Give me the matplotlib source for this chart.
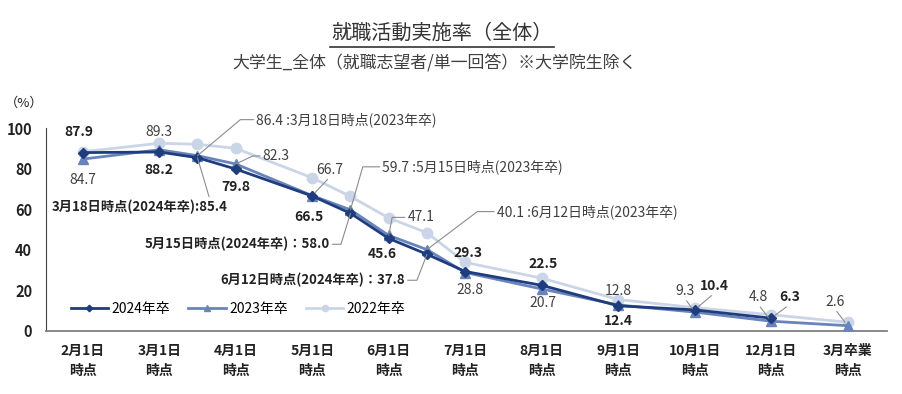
import matplotlib
matplotlib.use("Agg")
import matplotlib.pyplot as plt
from matplotlib.lines import Line2D

plt.rcParams['font.family'] = ['Noto Sans CJK JP', 'DejaVu Sans']

# x categories (half steps are the intermediate dates)
cats = ["2月1日\n時点", "3月1日\n時点", "4月1日\n時点", "5月1日\n時点", "6月1日\n時点",
        "7月1日\n時点", "8月1日\n時点", "9月1日\n時点", "10月1日\n時点", "12月1日\n時点",
        "3月卒業\n時点"]
xpos = [0, 1, 1.5, 2, 3, 3.5, 4, 4.5, 5, 6, 7, 8, 9, 10]

y2024 = [87.9, 88.2, 85.4, 79.8, 66.5, 58.0, 45.6, 37.8, 29.3, 22.5, 12.4, 10.4, 6.3]
y2023 = [84.7, 89.3, 86.4, 82.3, 66.7, 59.7, 47.1, 40.1, 28.8, 20.7, 12.8, 9.3, 4.8, 2.6]
y2022 = [88.3, 92.5, 92.0, 90.0, 75.5, 66.3, 55.7, 48.4, 33.8, 26.0, 15.5, 11.5, 8.0, 4.3]

c24 = "#1f3c7e"
c23 = "#6884ba"
c22 = "#cbd5e8"

fig = plt.figure(figsize=(9.02, 3.94), dpi=100)
ax = fig.add_axes([0.051, 0.160, 0.932, 0.515])

ax.plot(xpos, y2022, color=c22, lw=2, marker="o", ms=7.5, zorder=2, label="2022年卒")
ax.plot(xpos, y2023, color=c23, lw=2, marker="^", ms=7, zorder=3, label="2023年卒")
ax.plot(xpos[:len(y2024)], y2024, color=c24, lw=2, marker="D", ms=5.5, zorder=4, label="2024年卒")

ax.set_xlim(-0.48, 10.51)
ax.set_ylim(0, 100)
ax.set_yticks([0, 20, 40, 60, 80, 100])
ax.set_xticks(range(len(cats)))
ax.set_xticklabels(cats, fontsize=10, fontweight="bold", linespacing=1.6, color="#222222")
ax.tick_params(axis="y", length=0, pad=10, labelsize=10.5, labelcolor="#222222")
ax.tick_params(axis="x", length=0, pad=9)
for t in ax.get_yticklabels():
    t.set_fontweight("bold")
for s in ["top", "right"]:
    ax.spines[s].set_visible(False)
ax.spines["left"].set_color("#404040")
ax.spines["bottom"].set_color("#808080")
ax.spines["bottom"].set_linewidth(1.3)

h, l = ax.get_legend_handles_labels()
ax.legend(h[::-1], l[::-1], loc="lower left", bbox_to_anchor=(0.026, 0.06), ncol=3,
          frameon=False, fontsize=10, handlelength=2.7, columnspacing=1.3,
          handletextpad=0.25, markerscale=0.6, borderaxespad=0, borderpad=0.2)

# labels: (series, index, text, dx, dy, leader, angle, ha)
labels = [
    (y2024, 0, "87.9", -4, 21, None, None, "center"),
    (y2023, 0, "84.7", 0, -21, None, None, "center"),
    (y2023, 1, "89.3", 0, 18, None, None, "center"),
    (y2024, 1, "88.2", 0, -18, None, None, "center"),
    (y2023, 2, "86.4 :3月18日時点(2023年卒)", 59, 36, "elbow", 40, "left"),
    (y2024, 2, "3月18日時点(2024年卒):85.4", 30, -49, "top", None, "right"),
    (y2023, 3, "82.3", 27, 8, "elbow", 25, "left"),
    (y2024, 3, "79.8", 0, -18, None, None, "center"),
    (y2023, 4, "66.7", 18, 26, "straight", None, "center"),
    (y2024, 4, "66.5", -3, -21, None, None, "center"),
    (y2023, 5, "59.7 :5月15日時点(2023年卒)", 32, 43, "elbow", 74, "left"),
    (y2024, 5, "5月15日時点(2024年卒)：58.0", -21, -31, "elbow", 73, "right"),
    (y2023, 6, "47.1", 19, 18, "elbow", 79, "left"),
    (y2024, 6, "45.6", -6, -16, None, None, "center"),
    (y2023, 7, "40.1 :6月12日時点(2023年卒)", 70, 38, "elbow", 37, "left"),
    (y2024, 7, "6月12日時点(2024年卒)：37.8", -22, -26, "elbow", 69, "right"),
    (y2024, 8, "29.3", 3, 19, None, None, "center"),
    (y2023, 8, "28.8", 5, -17, None, None, "center"),
    (y2024, 9, "22.5", 1, 21, None, None, "center"),
    (y2023, 9, "20.7", 1, -14, None, None, "center"),
    (y2023, 10, "12.8", 0, 14, None, None, "center"),
    (y2024, 10, "12.4", 0, -15, None, None, "center"),
    (y2023, 11, "9.3", -10, 21, "straight", None, "center"),
    (y2024, 11, "10.4", 20, 24, "straight", None, "center"),
    (y2023, 12, "4.8", -13, 24, "straight", None, "center"),
    (y2024, 12, "6.3", 19, 21, "straight", None, "center"),
    (y2023, 13, "2.6", -13, 24, "straight", None, "center"),
]

for ser, i, txt, dx, dy, lead, ang, ha in labels:
    bold = ser is y2024
    size = 10
    if bold and len(txt) > 6:
        size = 9.5
    kw = dict(textcoords="offset pixels", ha=ha, va="center", fontsize=size,
              fontweight="bold" if bold else "normal",
              color="#222222" if bold else "#404040", zorder=6)
    if lead == "elbow":
        rp = (0, 0.5) if ha == "left" else (1, 0.5)
        kw["arrowprops"] = dict(arrowstyle="-", color="#8c8c8c", lw=0.8,
                                shrinkA=0, shrinkB=0, relpos=rp,
                                connectionstyle="angle,angleA=0,angleB=%d,rad=0" % ang)
    elif lead == "straight":
        kw["arrowprops"] = dict(arrowstyle="-", color="#8c8c8c", lw=0.8,
                                shrinkA=0, shrinkB=3, relpos=(0.5, 0))
    elif lead == "top":
        kw["arrowprops"] = dict(arrowstyle="-", color="#8c8c8c", lw=0.8,
                                shrinkA=0, shrinkB=0, relpos=(0.9, 1))
    ax.annotate(txt, xy=(xpos[i], ser[i]), xytext=(dx, dy), **kw)

fig.text(0.49, 0.915, "就職活動実施率（全体）", ha="center", va="center",
         fontsize=14.5, color="#333333")
fig.add_artist(Line2D([0.366, 0.614], [0.881, 0.881], transform=fig.transFigure,
                      color="#333333", lw=1.2))
fig.text(0.482, 0.84, "大学生_全体（就職志望者/単一回答）※大学院生除く", ha="center",
         va="center", fontsize=12.2, color="#404040")
fig.text(0.027, 0.738, "（%）", ha="center", va="center", fontsize=9.5, color="#222222")

fig.savefig("out.png", dpi=100)
